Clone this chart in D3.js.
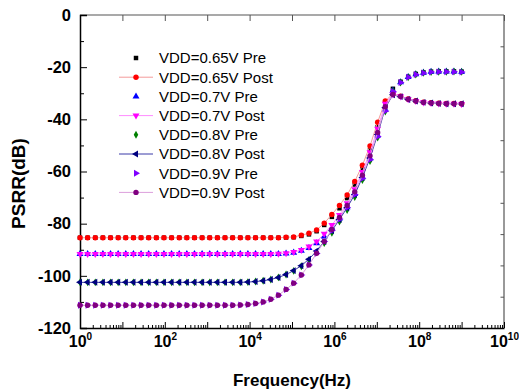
<!DOCTYPE html>
<html>
<head>
<meta charset="utf-8">
<script src="https://cdn.jsdelivr.net/npm/d3@7"></script>
<style>
  body { margin: 0; background: #fff; }
  svg { font-family: Arial, "Liberation Sans", sans-serif; }
</style>
</head>
<body>
<div id="chart"></div>
<script>
// sweep frequencies (Hz)
var freq = [1, 1.514, 2.291, 3.467, 5.248, 7.943, 12.02, 18.20, 27.54, 41.69,
  63.10, 95.50, 144.5, 218.8, 331.1, 501.2, 758.6, 1148, 1738, 2630,
  3981, 6026, 9120, 13800, 20890, 31620, 47860, 72440, 109600, 166000,
  251200, 380200, 575400, 871000, 1318000, 1995000, 3020000, 4571000, 6918000, 10470000,
  15850000, 23990000, 36310000, 54950000, 83180000, 125900000, 190500000, 288400000, 436500000, 660700000,
  1000000000];

// PSRR (dB)
var pre065 = [-85.4, -85.4, -85.4, -85.4, -85.4, -85.4, -85.4, -85.4, -85.4, -85.4,
  -85.4, -85.4, -85.4, -85.4, -85.4, -85.4, -85.4, -85.4, -85.4, -85.4,
  -85.4, -85.4, -85.4, -85.4, -85.4, -85.4, -85.4, -85.3, -85.2, -84.7,
  -84.1, -82.9, -80.5, -77.4, -74.1, -70.2, -65.0, -59.0, -51.8, -43.0,
  -34.2, -28.3, -25.6, -23.7, -22.6, -22.0, -21.7, -21.6, -21.6, -21.6,
  -21.7];
var post065 = [-85.4, -85.4, -85.4, -85.4, -85.4, -85.4, -85.4, -85.4, -85.4, -85.4,
  -85.4, -85.4, -85.4, -85.4, -85.4, -85.4, -85.4, -85.4, -85.4, -85.4,
  -85.4, -85.4, -85.4, -85.4, -85.4, -85.4, -85.4, -85.2, -85.1, -84.4,
  -83.7, -82.4, -79.8, -76.5, -73.0, -69.0, -63.8, -57.6, -50.2, -41.1,
  -33.0, -30.2, -31.1, -32.2, -32.9, -33.4, -33.6, -33.8, -33.9, -33.9,
  -34.0];
var pre07 = [-91.6, -91.6, -91.6, -91.6, -91.6, -91.6, -91.6, -91.6, -91.6, -91.6,
  -91.6, -91.6, -91.6, -91.6, -91.6, -91.6, -91.6, -91.6, -91.6, -91.6,
  -91.6, -91.6, -91.6, -91.6, -91.6, -91.6, -91.6, -91.4, -91.1, -90.4,
  -89.3, -87.5, -84.9, -81.6, -78.0, -73.7, -68.6, -62.2, -55.0, -46.2,
  -36.3, -29.0, -25.8, -23.8, -22.7, -22.1, -21.8, -21.7, -21.7, -21.7,
  -21.8];
var post07 = [-91.6, -91.6, -91.6, -91.6, -91.6, -91.6, -91.6, -91.6, -91.6, -91.6,
  -91.6, -91.6, -91.6, -91.6, -91.6, -91.6, -91.6, -91.6, -91.6, -91.6,
  -91.6, -91.6, -91.6, -91.6, -91.6, -91.6, -91.5, -91.3, -90.9, -90.1,
  -88.8, -86.8, -83.9, -80.5, -76.7, -72.2, -66.8, -60.2, -52.6, -43.6,
  -34.0, -30.4, -31.2, -32.3, -33.0, -33.5, -33.7, -33.9, -34.0, -34.0,
  -34.1];
var pre08 = [-102.5, -102.5, -102.5, -102.5, -102.5, -102.5, -102.5, -102.5, -102.5, -102.5,
  -102.5, -102.5, -102.5, -102.5, -102.5, -102.5, -102.5, -102.5, -102.5, -102.5,
  -102.5, -102.5, -102.4, -102.2, -101.9, -101.4, -100.6, -99.5, -98.1, -96.3,
  -93.9, -91.0, -87.4, -83.5, -79.2, -74.8, -69.8, -63.3, -56.0, -47.0,
  -37.0, -29.2, -25.9, -23.9, -22.8, -22.2, -21.9, -21.8, -21.8, -21.7,
  -21.8];
var post08 = [-102.5, -102.5, -102.5, -102.5, -102.5, -102.5, -102.5, -102.5, -102.5, -102.5,
  -102.5, -102.5, -102.5, -102.5, -102.5, -102.5, -102.5, -102.5, -102.5, -102.5,
  -102.5, -102.5, -102.4, -102.2, -101.9, -101.4, -100.6, -99.5, -98.0, -96.1,
  -93.6, -90.5, -86.8, -82.7, -78.4, -73.9, -68.8, -62.3, -54.8, -45.8,
  -35.6, -30.6, -31.3, -32.4, -33.0, -33.5, -33.7, -33.9, -34.0, -34.0,
  -34.0];
var pre09 = [-111.3, -111.3, -111.3, -111.3, -111.3, -111.3, -111.3, -111.3, -111.3, -111.3,
  -111.3, -111.3, -111.3, -111.3, -111.3, -111.3, -111.3, -111.3, -111.3, -111.3,
  -111.3, -111.2, -111.0, -110.6, -110.0, -109.0, -107.4, -105.2, -102.8, -99.7,
  -95.8, -91.4, -86.8, -82.6, -78.2, -73.8, -68.8, -62.6, -55.4, -46.6,
  -36.8, -29.3, -25.9, -23.9, -22.8, -22.2, -21.9, -21.8, -21.8, -21.8,
  -21.9];
var post09 = [-111.3, -111.3, -111.3, -111.3, -111.3, -111.3, -111.3, -111.3, -111.3, -111.3,
  -111.3, -111.3, -111.3, -111.3, -111.3, -111.3, -111.3, -111.3, -111.3, -111.3,
  -111.3, -111.2, -111.0, -110.6, -110.0, -109.0, -107.4, -105.2, -102.8, -99.7,
  -95.8, -91.4, -86.8, -82.2, -77.6, -73.0, -67.8, -61.4, -54.0, -45.0,
  -35.2, -30.5, -31.2, -32.3, -33.0, -33.5, -33.7, -33.9, -34.0, -34.0,
  -34.0];

var seriesNames = ["VDD=0.65V Pre", "VDD=0.65V Post", "VDD=0.7V Pre", "VDD=0.7V Post",
  "VDD=0.8V Pre", "VDD=0.8V Post", "VDD=0.9V Pre", "VDD=0.9V Post"];
var seriesValues = [pre065, post065, pre07, post07, pre08, post08, pre09, post09];

var xLabelExp = [0, 2, 4, 6, 8, 10];
var xDecades = [1, 10, 100, 1e3, 1e4, 1e5, 1e6, 1e7, 1e8, 1e9, 1e10];
var yMajor = [0, -20, -40, -60, -80, -100, -120];
var yMinor = [-10, -30, -50, -70, -90, -110];
var yRight = [-12, -24, -36, -48, -60, -72, -84, -96, -108];

// marker style per series
var styles = [
  { color: "#000000", type: d3.symbolSquare, rot: 0, size: 20, line: null },
  { color: "#ff0000", type: d3.symbolCircle, rot: 0, size: 23, line: "#f49a9a" },
  { color: "#0000ff", type: d3.symbolTriangle, rot: 0, size: 21, line: null },
  { color: "#ff00ff", type: d3.symbolTriangle, rot: 180, size: 21, line: "#ff8cff" },
  { color: "#008000", type: d3.symbolDiamond, rot: 0, size: 18, line: null },
  { color: "#000080", type: d3.symbolTriangle, rot: -90, size: 21, line: "#3a3aa8" },
  { color: "#8000ff", type: d3.symbolTriangle, rot: 90, size: 21, line: null },
  { color: "#800080", type: d3.symbolCircle, rot: 0, size: 23, line: "#dc9edc" }
];

var margin = { top: 15, right: 15, bottom: 63, left: 80 },
  width = 519 - margin.left - margin.right,
  height = 391 - margin.top - margin.bottom;

var x = d3.scaleLog()
  .domain([1, 1e10])
  .range([0, width]);

var y = d3.scaleLinear()
  .domain([-120, 0])
  .range([height, 0]);

var svg = d3.select("#chart").append("svg")
  .attr("width", 519)
  .attr("height", 391);

var g = svg.append("g")
  .attr("transform", "translate(" + margin.left + "," + margin.top + ")");

// frame
g.append("line").attr("x1", 0).attr("x2", width).attr("y1", 0).attr("y2", 0)
  .attr("stroke", "#555").attr("stroke-width", 1.2);
g.append("line").attr("x1", width).attr("x2", width).attr("y1", 0).attr("y2", height)
  .attr("stroke", "#555").attr("stroke-width", 1.2);

// bottom axis: minor log ticks, decade ticks, labels
var minorX = [];
xDecades.slice(0, 10).forEach(function (d) {
  for (var m = 2; m <= 9; m++) minorX.push(d * m);
});

g.append("g")
  .attr("transform", "translate(0," + height + ")")
  .call(d3.axisBottom(x).tickValues(minorX).tickSize(-3).tickFormat(""))
  .call(function (a) { a.select(".domain").remove(); });

g.append("g")
  .attr("transform", "translate(0," + height + ")")
  .call(d3.axisBottom(x).tickValues(xDecades).tickSize(-6).tickFormat(""))
  .call(function (a) { a.select(".domain").remove(); });

var xLab = g.append("g")
  .attr("class", "x axis")
  .attr("transform", "translate(0," + height + ")")
  .call(d3.axisBottom(x).tickValues(xLabelExp.map(function (e) { return Math.pow(10, e); }))
    .tickSize(0).tickPadding(0).tickFormat(""));
xLab.select(".domain").attr("stroke", "#000").attr("stroke-width", 1.5);
xLab.selectAll(".tick text")
  .attr("y", 19)
  .attr("dy", 0)
  .style("font-size", "16px")
  .style("font-weight", "bold")
  .style("fill", "#000")
  .each(function (d) {
    var t = d3.select(this);
    t.append("tspan").text("10");
    t.append("tspan").attr("dy", -7).style("font-size", "10px").text(Math.round(Math.log10(d)));
  });

// top axis ticks
g.append("g")
  .call(d3.axisTop(x).tickValues(xDecades).tickSize(-6).tickFormat(""))
  .call(function (a) { a.select(".domain").remove(); })
  .selectAll("line").attr("stroke", "#555");

// left axis
g.append("g")
  .call(d3.axisLeft(y).tickValues(yMinor).tickSize(-4).tickFormat(""))
  .call(function (a) { a.select(".domain").remove(); });

var yAx = g.append("g")
  .attr("class", "y axis")
  .call(d3.axisLeft(y).tickValues(yMajor).tickSize(-7).tickPadding(9)
    .tickFormat(function (d) { return String(d); }));
yAx.select(".domain").attr("stroke", "#000").attr("stroke-width", 1.5);
yAx.selectAll(".tick text")
  .style("font-size", "16.5px")
  .style("font-weight", "bold")
  .style("fill", "#000");

// right axis ticks
g.append("g")
  .attr("transform", "translate(" + width + ",0)")
  .call(d3.axisRight(y).tickValues(yRight).tickSize(-3.5).tickFormat(""))
  .call(function (a) { a.select(".domain").remove(); })
  .selectAll("line").attr("stroke", "#555");

// titles
svg.append("text")
  .attr("x", margin.left + width / 2)
  .attr("y", 386)
  .attr("text-anchor", "middle")
  .style("font-size", "17px")
  .style("font-weight", "bold")
  .text("Frequency(Hz)");

svg.append("text")
  .attr("transform", "translate(25," + (margin.top + height / 2 + 12) + ") rotate(-90)")
  .attr("text-anchor", "middle")
  .style("font-size", "19px")
  .style("font-weight", "bold")
  .text("PSRR(dB)");

// series
var line = d3.line()
  .x(function (d, i) { return x(freq[i]); })
  .y(function (d) { return y(d); });

function symbolPath(s) {
  return d3.symbol().type(s.type).size(s.size)();
}

seriesValues.forEach(function (vals, k) {
  var s = styles[k];
  var sg = g.append("g").attr("class", "series");
  if (s.line) {
    sg.append("path")
      .datum(vals)
      .attr("d", line)
      .attr("fill", "none")
      .attr("stroke", s.line)
      .attr("stroke-width", 1);
  }
  sg.selectAll(".dot")
    .data(vals)
    .enter().append("path")
    .attr("class", "dot")
    .attr("d", symbolPath(s))
    .attr("transform", function (d, i) {
      return "translate(" + x(freq[i]) + "," + y(d) + ") rotate(" + s.rot + ")";
    })
    .attr("fill", s.color);
});

// legend
var legend = svg.append("g")
  .attr("transform", "translate(119,58)");

seriesNames.forEach(function (name, k) {
  var s = styles[k];
  var row = legend.append("g").attr("transform", "translate(0," + (k * 19.2) + ")");
  if (s.line) {
    row.append("line")
      .attr("x1", 0).attr("x2", 34).attr("y1", 0).attr("y2", 0)
      .attr("stroke", s.line).attr("stroke-width", 1);
  }
  row.append("path")
    .attr("d", symbolPath(s))
    .attr("transform", "translate(17,0) rotate(" + s.rot + ")")
    .attr("fill", s.color);
  row.append("text")
    .attr("x", 40)
    .attr("y", 5.4)
    .style("font-size", "15px")
    .text(name);
});
</script>
</body>
</html>
